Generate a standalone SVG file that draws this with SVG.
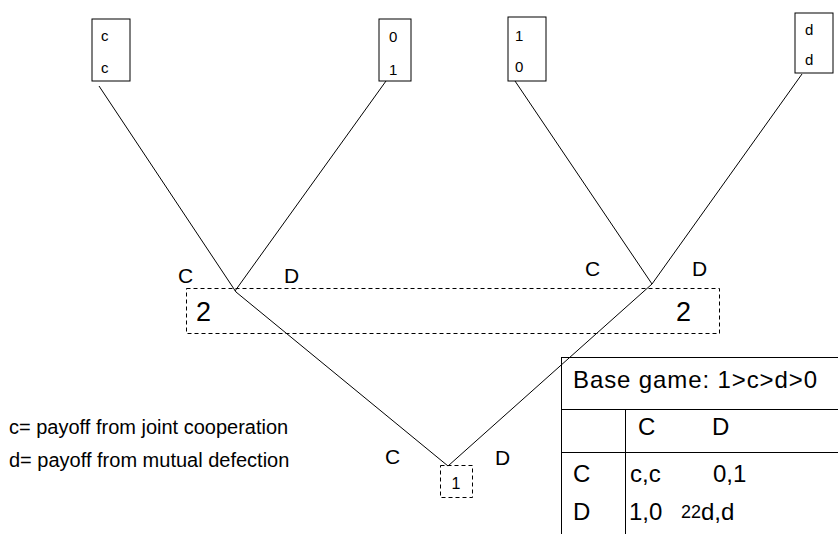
<svg xmlns="http://www.w3.org/2000/svg" width="838" height="534" viewBox="0 0 838 534">
  <style>
    text { font-family: "Liberation Sans", Arial, sans-serif; fill: #000; }
    .leaf { fill: #fff; stroke: #000; stroke-width: 1; }
    .info { fill: none; stroke: #000; stroke-width: 1; stroke-dasharray: 4 3; }
    .edge { stroke: #000; stroke-width: 1; fill: none; }
    .grid { stroke: #000; stroke-width: 1; fill: none; }
    .pay { font-size: 15px; }
    .act { font-size: 21px; }
    .player { font-size: 27px; }
    .tbl { font-size: 24px; }
    .note { font-size: 20px; }
  </style>

  <!-- game tree branches -->
  <g id="connectors">
    <line class="edge" x1="99" y1="86" x2="236" y2="292"/>
    <line class="edge" x1="386" y1="81" x2="235" y2="291"/>
    <line class="edge" x1="515" y1="81" x2="652" y2="284"/>
    <line class="edge" x1="802" y1="74" x2="652" y2="284"/>
    <line class="edge" x1="236" y1="292" x2="448" y2="466"/>
    <line class="edge" x1="652" y1="284" x2="448" y2="466"/>
  </g>

  <!-- terminal payoffs -->
  <g id="leaf-cc">
    <rect class="leaf" x="92" y="19" width="38" height="62"/>
    <text class="pay" x="101" y="41">c</text>
    <text class="pay" x="101" y="73">c</text>
  </g>
  <g id="leaf-cd">
    <rect class="leaf" x="379" y="19" width="32" height="62"/>
    <text class="pay" x="389" y="42">0</text>
    <text class="pay" x="389" y="75">1</text>
  </g>
  <g id="leaf-dc">
    <rect class="leaf" x="508" y="17" width="38" height="64"/>
    <text class="pay" x="515" y="41">1</text>
    <text class="pay" x="515" y="72">0</text>
  </g>
  <g id="leaf-dd">
    <rect class="leaf" x="795" y="13" width="38" height="60"/>
    <text class="pay" x="805" y="35">d</text>
    <text class="pay" x="805" y="65">d</text>
  </g>

  <!-- player 2 information set -->
  <g id="player2">
    <rect class="info" x="186.5" y="288.5" width="533" height="45"/>
    <text class="player" x="196" y="321">2</text>
    <text class="player" x="676" y="321">2</text>
    <text class="act" x="178" y="283">C</text>
    <text class="act" x="284" y="283">D</text>
    <text class="act" x="585" y="276">C</text>
    <text class="act" x="692" y="276">D</text>
  </g>

  <!-- player 1 root -->
  <g id="player1">
    <rect class="info" x="440.5" y="465.5" width="32" height="32"/>
    <text x="456" y="489" font-size="16" text-anchor="middle">1</text>
    <text class="act" x="385" y="464">C</text>
    <text class="act" x="495" y="465">D</text>
  </g>

  <!-- legend -->
  <g id="legend">
    <text class="note" x="9" y="434">c= payoff from joint cooperation</text>
    <text class="note" x="9" y="467">d= payoff from mutual defection</text>
  </g>

  <!-- base game matrix -->
  <g id="base-game">
    <line class="grid" x1="561.5" y1="357" x2="561.5" y2="534"/>
    <line class="grid" x1="561" y1="357.5" x2="838" y2="357.5"/>
    <line class="grid" x1="561" y1="409.5" x2="838" y2="409.5"/>
    <line class="grid" x1="561" y1="452.5" x2="838" y2="452.5"/>
    <line class="grid" x1="625.5" y1="409" x2="625.5" y2="534"/>
    <text x="573" y="388" font-size="24" textLength="244" lengthAdjust="spacing">Base game: 1&gt;c&gt;d&gt;0</text>
    <text class="tbl" x="638" y="435">C</text>
    <text class="tbl" x="712" y="435">D</text>
    <text class="tbl" x="573" y="482">C</text>
    <text class="tbl" x="630" y="482">c,c</text>
    <text class="tbl" x="713" y="482">0,1</text>
    <text class="tbl" x="573" y="520">D</text>
    <text class="tbl" x="629" y="520">1,0</text>
    <text x="681" y="518" font-size="18">22</text>
    <text class="tbl" x="701" y="520">d,d</text>
  </g>
</svg>
